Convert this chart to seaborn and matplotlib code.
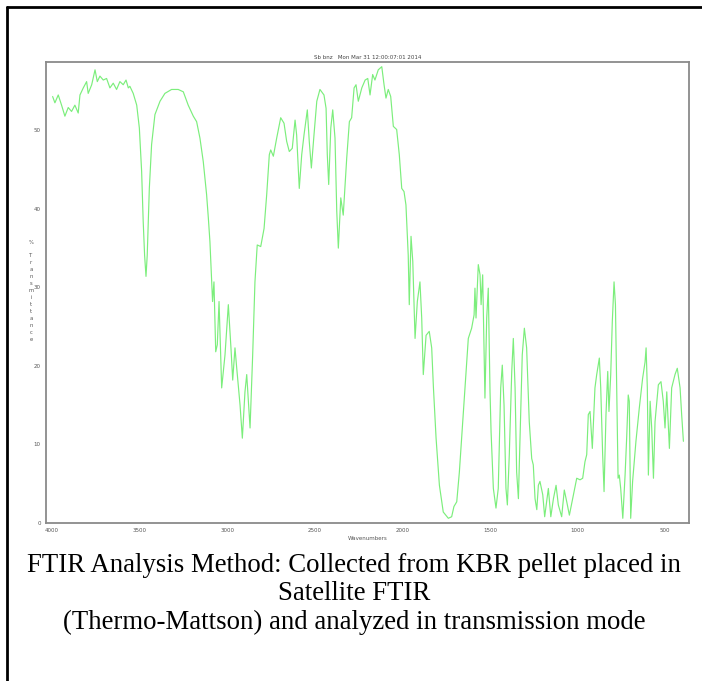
import matplotlib

matplotlib.use("Agg")

import matplotlib.pyplot as plt
import pandas as pd
import seaborn as sns
from matplotlib.lines import Line2D

# wavenumber (cm-1) and % transmittance
wavenumbers = [
    3996, 3983, 3964, 3945, 3926, 3907, 3888, 3869, 3850, 3840, 3821, 3802, 3793, 3773,
    3754, 3741, 3726, 3707, 3688, 3669, 3650, 3631, 3612, 3593, 3577, 3564, 3555, 3536,
    3516, 3501, 3488, 3479, 3471, 3463, 3456, 3444, 3431, 3412, 3383, 3355, 3317, 3279,
    3250, 3222, 3193, 3174, 3155, 3136, 3117, 3107, 3098, 3088, 3083, 3075, 3065, 3056,
    3046, 3031, 3012, 2993, 2978, 2968, 2955, 2945, 2926, 2913, 2898, 2888, 2869, 2854,
    2841, 2828, 2808, 2789, 2774, 2759, 2751, 2736, 2717, 2694, 2675, 2660, 2645, 2628,
    2612, 2603, 2588, 2574, 2561, 2542, 2531, 2519, 2504, 2488, 2470, 2447, 2435, 2428,
    2420, 2408, 2397, 2384, 2374, 2365, 2351, 2337, 2317, 2302, 2289, 2275, 2264, 2251,
    2231, 2212, 2197, 2184, 2169, 2156, 2137, 2117, 2104, 2093, 2080, 2066, 2051, 2032,
    2017, 2003, 1990, 1979, 1966, 1960, 1950, 1940, 1927, 1914, 1899, 1889, 1880, 1864,
    1846, 1832, 1822, 1807, 1788, 1766, 1737, 1718, 1705, 1689, 1674, 1655, 1636, 1623,
    1604, 1590, 1585, 1579, 1566, 1556, 1550, 1541, 1528, 1518, 1509, 1499, 1493, 1480,
    1465, 1452, 1438, 1429, 1419, 1408, 1400, 1389, 1375, 1366, 1356, 1347, 1337, 1328,
    1315, 1303, 1290, 1275, 1261, 1252, 1242, 1232, 1223, 1214, 1198, 1187, 1166, 1152,
    1137, 1122, 1109, 1090, 1075, 1061, 1046, 1027, 1004, 985, 970, 957, 947, 938,
    928, 915, 900, 890, 875, 867, 856, 848, 837, 827, 820, 810, 801, 791,
    783, 776, 768, 761, 753, 741, 728, 719, 710, 704, 696, 685, 666, 647,
    628, 614, 608, 601, 595, 585, 576, 566, 557, 538, 523, 510, 500, 490,
    475, 462, 443, 430, 414, 405, 395,
]
transmittance = [
    54.3, 53.5, 54.5, 53.2, 51.8, 52.9, 52.4, 53.2, 52.2, 54.5, 55.4, 56.2, 54.7, 55.8,
    57.7, 56.2, 56.9, 56.4, 56.6, 55.4, 56.0, 55.2, 56.2, 55.8, 56.4, 55.4, 55.6, 54.7,
    53.2, 50.3, 44.8, 38.4, 34.1, 31.4, 34.1, 42.6, 48.2, 52.0, 53.7, 54.7, 55.2, 55.2,
    54.9, 53.2, 51.8, 51.1, 49.0, 46.0, 41.8, 38.8, 35.8, 30.7, 28.2, 30.7, 21.8, 22.7,
    28.2, 17.2, 21.4, 27.8, 22.3, 18.2, 22.3, 19.7, 15.0, 10.8, 16.7, 18.9, 12.1, 21.4,
    30.7, 35.4, 35.2, 37.5, 41.8, 46.9, 47.5, 46.7, 49.0, 51.6, 50.9, 48.6, 47.3, 47.7,
    51.3, 49.4, 42.6, 46.9, 49.4, 52.6, 48.6, 45.2, 49.4, 53.7, 55.2, 54.5, 52.8, 46.9,
    43.1, 50.3, 52.6, 49.0, 39.7, 35.0, 41.4, 39.2, 46.5, 51.1, 51.6, 55.4, 55.8, 53.7,
    55.4, 56.4, 56.6, 54.5, 57.1, 56.4, 57.7, 58.1, 55.8, 54.1, 55.2, 54.3, 50.5, 50.1,
    46.9, 42.6, 42.2, 40.5, 34.1, 27.8, 36.5, 33.3, 23.5, 28.2, 30.7, 26.1, 18.9, 23.9,
    24.4, 22.3, 17.2, 10.8, 4.8, 1.4, 0.6, 0.8, 2.1, 2.7, 6.5, 12.9, 19.3, 23.5,
    24.8, 26.5, 29.9, 26.1, 32.9, 31.6, 27.8, 31.6, 15.9, 26.1, 29.9, 16.7, 11.6, 4.4,
    1.9, 4.4, 17.2, 20.1, 15.0, 4.4, 2.3, 8.7, 19.3, 23.5, 17.2, 6.5, 3.1, 10.8,
    21.4, 24.8, 22.3, 12.9, 8.2, 7.4, 3.1, 1.7, 4.8, 5.3, 3.6, 0.8, 4.4, 0.8,
    3.1, 4.8, 2.3, 0.8, 4.2, 2.7, 1.0, 3.1, 5.7, 5.5, 5.7, 7.8, 8.7, 13.8,
    14.2, 9.5, 17.2, 18.9, 21.0, 17.2, 8.7, 4.0, 13.8, 19.3, 14.2, 18.9, 25.6, 30.7,
    27.8, 17.2, 5.7, 6.1, 4.4, 0.6, 6.1, 10.8, 16.3, 15.5, 0.6, 5.3, 10.4, 14.6,
    18.4, 20.5, 22.3, 17.2, 6.1, 15.5, 12.1, 5.7, 12.9, 17.6, 18.0, 15.5, 12.1, 16.7,
    9.5, 17.2, 18.9, 19.7, 17.2, 13.8, 10.4,
]
x_ticks = [4000, 3500, 3000, 2500, 2000, 1500, 1000, 500]
y_ticks = [0, 10, 20, 30, 40, 50]

title_text = "Sb bnz   Mon Mar 31 12:00:07:01 2014"
x_label = "Wavenumbers"
y_label = "% Transmittance"
caption_lines = [
    "FTIR Analysis Method: Collected from KBR pellet placed in",
    "Satellite FTIR",
    "(Thermo-Mattson) and analyzed in transmission mode",
]

spectrum = pd.DataFrame({"Wavenumber": wavenumbers, "Transmittance": transmittance})

sns.set_style("white")
plt.rcParams["font.family"] = ["DejaVu Sans"]

fig = plt.figure(figsize=(7.02, 6.81), dpi=100)
ax = fig.add_axes([0.065, 0.232, 0.9165, 0.677])

sns.lineplot(
    data=spectrum,
    x="Wavenumber",
    y="Transmittance",
    sort=False,
    estimator=None,
    color="#7CEE7C",
    linewidth=0.85,
    ax=ax,
)

ax.set_xlim(4036, 363)
ax.set_ylim(0, 58.7)
ax.set_xticks(x_ticks)
ax.set_yticks(y_ticks)
ax.tick_params(
    axis="both",
    direction="out",
    length=2.5,
    width=0.7,
    color="#777777",
    labelsize=4,
    labelcolor="#555555",
    pad=1,
)
for spine in ax.spines.values():
    spine.set_color("#8a8a8a")
    spine.set_linewidth(1.3)

ax.set_xlabel(x_label, fontsize=4, color="#555555", labelpad=2)
ax.set_ylabel("")
ax.set_title(title_text, fontsize=4, color="#444444", pad=2)

# the instrument stacks the y label one upright letter at a time
label_chars = y_label.replace(" ", "")
fig.text(31 / 702, 1 - 243 / 681, label_chars[0], fontsize=3.8, color="#555555",
         ha="center", va="center")
fig.text(31 / 702, 1 - 253 / 681, "\n".join(label_chars[1:]), fontsize=3.8,
         color="#555555", ha="center", va="top", linespacing=1.5)

for line, y_px in zip(caption_lines, [566, 594, 622]):
    fig.text(354 / 702, 1 - y_px / 681, line, fontsize=19.3,
             family="Liberation Serif", ha="center", va="center", color="black")

# black frame lines along the top and left edges of the page
fig.add_artist(Line2D([7 / 702, 1.0], [1 - 7 / 681, 1 - 7 / 681],
                      transform=fig.transFigure, color="black", linewidth=2))
fig.add_artist(Line2D([7 / 702, 7 / 702], [0, 1 - 7 / 681],
                      transform=fig.transFigure, color="black", linewidth=2))

fig.savefig("out.png", dpi=100)
plt.close(fig)
